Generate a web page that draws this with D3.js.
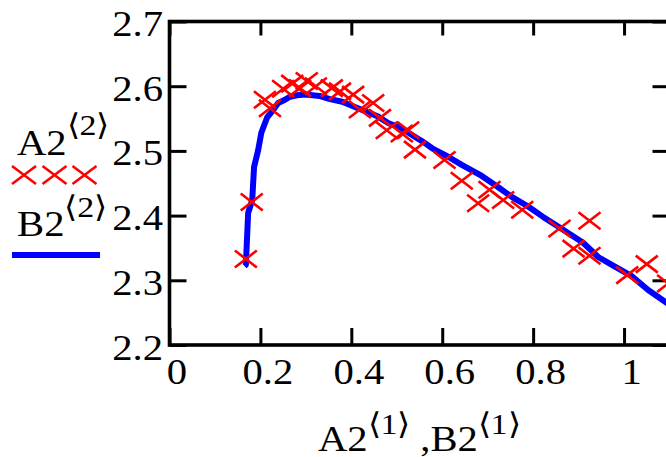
<!DOCTYPE html>
<html>
<head>
<meta charset="utf-8">
<script src="https://cdn.jsdelivr.net/npm/d3@7"></script>
<style>
  body { margin: 0; background: #fff; }
  svg { display: block; }
  text { font-family: "Liberation Serif", "Times New Roman", serif; fill: #000; }
</style>
</head>
<body>
<div id="chart"></div>
<script>
// A2 = measured points (red crosses), B2 = fitted curve (blue)
const a2x = [0.168, 0.181, 0.210, 0.221, 0.250, 0.270, 0.287, 0.302, 0.322, 0.357, 0.375, 0.404,
  0.419, 0.448, 0.463, 0.478, 0.511, 0.525, 0.540, 0.605, 0.643, 0.679, 0.704, 0.734,
  0.776, 0.858, 0.889, 0.924, 0.924, 1.007, 1.050, 1.097];
const a2y = [2.333, 2.421, 2.579, 2.566, 2.596, 2.604, 2.597, 2.608, 2.600, 2.597, 2.592, 2.587,
  2.564, 2.574, 2.551, 2.532, 2.527, 2.532, 2.502, 2.486, 2.454, 2.419, 2.440, 2.424,
  2.409, 2.380, 2.349, 2.392, 2.338, 2.308, 2.325, 2.295];

const b2x = [0.165, 0.168, 0.173, 0.182, 0.186, 0.195, 0.202, 0.215, 0.228, 0.239, 0.254, 0.263,
  0.280, 0.300, 0.330, 0.353, 0.380, 0.408, 0.432, 0.459, 0.481, 0.510, 0.544, 0.558,
  0.578, 0.613, 0.644, 0.683, 0.721, 0.753, 0.789, 0.822, 0.855, 0.910, 0.943, 0.980,
  1.018, 1.053, 1.084, 1.100];
const b2y = [2.322, 2.324, 2.404, 2.424, 2.475, 2.501, 2.528, 2.552, 2.563, 2.574, 2.579, 2.583,
  2.586, 2.587, 2.585, 2.580, 2.576, 2.568, 2.561, 2.553, 2.543, 2.535, 2.520, 2.514,
  2.504, 2.491, 2.478, 2.463, 2.445, 2.429, 2.414, 2.398, 2.383, 2.358, 2.336, 2.321,
  2.306, 2.285, 2.270, 2.262];

const xTicks = [0, 0.2, 0.4, 0.6, 0.8, 1];
const xTickLabels = ["0", "0.2", "0.4", "0.6", "0.8", "1"];
const yTicks = [2.2, 2.3, 2.4, 2.5, 2.6, 2.7];
const yTickLabels = ["2.2", "2.3", "2.4", "2.5", "2.6", "2.7"];

const width = 666;
const height = 457;
const box = { left: 169.5, top: 21.5, right: 669.5, bottom: 345 };

const svg = d3.select("#chart").append("svg")
  .attr("width", width)
  .attr("height", height)
  .attr("viewBox", `0 0 ${width} ${height}`);

const xScale = d3.scaleLinear().domain([0, 1.1]).range([box.left, box.right]);
const yScale = d3.scaleLinear().domain([2.2, 2.7]).range([box.bottom, box.top]);

svg.append("defs").append("clipPath").attr("id", "plotclip")
  .append("rect")
  .attr("x", box.left).attr("y", box.top)
  .attr("width", box.right - box.left).attr("height", box.bottom - box.top);

// frame
svg.append("rect")
  .attr("x", box.left).attr("y", box.top)
  .attr("width", box.right - box.left).attr("height", box.bottom - box.top)
  .attr("fill", "none").attr("stroke", "#000").attr("stroke-width", 3.6);

// ticks (inside the frame) via d3 axes, no labels
const tickStyle = g => {
  g.select(".domain").remove();
  g.selectAll(".tick line").attr("stroke", "#000").attr("stroke-width", 3);
  g.selectAll(".tick text").remove();
};
svg.append("g").attr("transform", `translate(0,${box.bottom})`)
  .call(d3.axisTop(xScale).tickValues(xTicks).tickSize(17)).call(tickStyle);
svg.append("g").attr("transform", `translate(0,${box.top})`)
  .call(d3.axisBottom(xScale).tickValues(xTicks).tickSize(14)).call(tickStyle);
svg.append("g").attr("transform", `translate(${box.left},0)`)
  .call(d3.axisRight(yScale).tickValues(yTicks).tickSize(17)).call(tickStyle);
svg.append("g").attr("transform", `translate(${box.right},0)`)
  .call(d3.axisLeft(yScale).tickValues(yTicks).tickSize(17)).call(tickStyle);

// tick labels
const sx = 1.13; // text in the picture is a bit wider than normal
yTicks.forEach((v, i) => {
  svg.append("text")
    .attr("transform", `translate(163,${yScale(v) + 14.5}) scale(${sx},1)`)
    .attr("text-anchor", "end")
    .attr("font-size", 36)
    .text(yTickLabels[i]);
});
xTicks.forEach((v, i) => {
  svg.append("text")
    .attr("transform", `translate(${xScale(v) + 7.5},384) scale(${sx},1)`)
    .attr("text-anchor", "middle")
    .attr("font-size", 36)
    .text(xTickLabels[i]);
});

// data
const plot = svg.append("g").attr("clip-path", "url(#plotclip)");

const line = d3.line().x(d => xScale(d[0])).y(d => yScale(d[1]));
plot.append("path")
  .datum(d3.zip(b2x, b2y))
  .attr("d", line)
  .attr("fill", "none")
  .attr("stroke", "#0000ff")
  .attr("stroke-width", 6)
  .attr("stroke-linejoin", "round");

const cw = 11, ch = 8.5;
const crossPath = (cx, cy) =>
  `M${cx - cw},${cy - ch}L${cx + cw},${cy + ch}M${cx - cw},${cy + ch}L${cx + cw},${cy - ch}`;

plot.append("g").selectAll("path")
  .data(d3.zip(a2x, a2y))
  .join("path")
  .attr("d", d => crossPath(xScale(d[0]), yScale(d[1])))
  .attr("stroke", "#ff0000")
  .attr("stroke-width", 2.6)
  .attr("fill", "none");

// axis title (bottom)
const xt = svg.append("text")
  .attr("transform", `translate(318,451) scale(${sx},1)`)
  .attr("font-size", 36);
xt.append("tspan").text("A2");
xt.append("tspan").attr("font-size", 30).attr("dy", -17).text("\u27E81\u27E9");
xt.append("tspan").attr("dy", 17).text(" ,B2");
xt.append("tspan").attr("font-size", 30).attr("dy", -17).text("\u27E81\u27E9");

// legend on the left
const la = svg.append("text")
  .attr("transform", `translate(17,155) scale(${sx},1)`)
  .attr("font-size", 36);
la.append("tspan").text("A2");
la.append("tspan").attr("font-size", 30).attr("dy", -20).text("\u27E82\u27E9");

[24, 54.5, 84.5].forEach(cx => {
  svg.append("path")
    .attr("d", `M${cx - 12},${166}L${cx + 12},${184}M${cx - 12},${184}L${cx + 12},${166}`)
    .attr("stroke", "#ff0000").attr("stroke-width", 2.6).attr("fill", "none");
});

const lb = svg.append("text")
  .attr("transform", `translate(17,236) scale(${sx},1)`)
  .attr("font-size", 36);
lb.append("tspan").text("B2");
lb.append("tspan").attr("font-size", 30).attr("dy", -19).text("\u27E82\u27E9");

svg.append("line")
  .attr("x1", 12).attr("x2", 100).attr("y1", 255).attr("y2", 255)
  .attr("stroke", "#0000ff").attr("stroke-width", 6);
</script>
</body>
</html>
